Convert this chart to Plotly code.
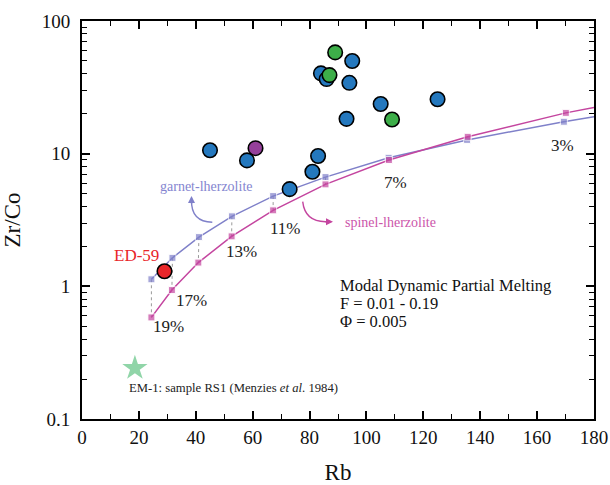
import plotly.graph_objects as go
import math

# ---------------- data ----------------
blue_rb = [45, 58, 73, 81, 83, 84, 86, 93, 94, 95, 105, 125]
blue_zrco = [10.6, 8.9, 5.4, 7.3, 9.6, 40.3, 36.5, 18.3, 34.2, 49.9, 23.7, 25.7]

green_rb = [87, 89, 109]
green_zrco = [39.1, 58.0, 18.1]

purple_rb = [61]
purple_zrco = [11.0]

ed59_rb = [29]
ed59_zrco = [1.30]

em1_rb = [18.6]
em1_zrco = [0.242]

melt_labels = ["19%", "17%", "15%", "13%", "11%", "9%", "7%", "5%", "3%", ""]
garnet_rb = [24.4, 31.8, 41.1, 52.7, 67.2, 85.6, 107.8, 135.4, 169.4, 180]
garnet_zrco = [1.13, 1.64, 2.35, 3.37, 4.79, 6.66, 9.31, 12.7, 17.4, 19.0]
spinel_rb = [24.4, 31.6, 40.9, 52.6, 67.2, 85.6, 107.9, 135.6, 170.1, 180]
spinel_zrco = [0.583, 0.937, 1.51, 2.38, 3.74, 5.87, 8.95, 13.4, 20.3, 22.3]

x_ticks = [0, 20, 40, 60, 80, 100, 120, 140, 160, 180]
y_ticks = [0.1, 1, 10, 100]
y_ticktext = ["0.1", "1", "10", "100"]

FONT = "Liberation Serif"
GARNET = "#7F80C9"
SPINEL = "#C4459F"

L, T, W, H = 82, 21, 512, 398

fig = go.Figure()

# dotted tie lines between the two models (19% .. 9%)
tie_x, tie_y = [], []
for i in range(6):
    tie_x += [garnet_rb[i], spinel_rb[i], None]
    tie_y += [garnet_zrco[i], spinel_zrco[i], None]
fig.add_trace(go.Scatter(x=tie_x, y=tie_y, mode="lines",
                         line=dict(color="#9A9A9A", width=1, dash="dot"),
                         hoverinfo="skip"))

msize = [7] * (len(garnet_rb) - 1) + [0]
fig.add_trace(go.Scatter(x=garnet_rb, y=garnet_zrco, mode="lines+markers",
                         line=dict(color=GARNET, width=1.5),
                         marker=dict(symbol="square", size=msize, color=GARNET),
                         text=melt_labels))
fig.add_trace(go.Scatter(x=spinel_rb, y=spinel_zrco, mode="lines+markers",
                         line=dict(color=SPINEL, width=1.5),
                         marker=dict(symbol="square", size=msize, color=SPINEL),
                         text=melt_labels))

def circles(x, y, color):
    fig.add_trace(go.Scatter(x=x, y=y, mode="markers",
                             marker=dict(symbol="circle", size=14.5, color=color,
                                         line=dict(color="black", width=1.6))))

circles(blue_rb, blue_zrco, "#2478BE")
circles(green_rb, green_zrco, "#3DAE49")
circles(purple_rb, purple_zrco, "#95409A")
circles(ed59_rb, ed59_zrco, "#E8262A")

fig.add_trace(go.Scatter(x=em1_rb, y=em1_zrco, mode="markers",
                         marker=dict(symbol="star", size=19, color="#90D5A8",
                                     line=dict(width=0))))

annotations = []
pct = [("19%", 30.3, 0.497), ("17%", 38.6, 0.788), ("13%", 56.1, 1.82),
       ("11%", 71.4, 2.74), ("7%", 110.3, 6.03), ("3%", 169.0, 11.6)]
for t, x, y in pct:
    annotations.append(dict(x=x, y=math.log10(y), xref="x", yref="y", text=t,
                            showarrow=False, font=dict(family=FONT, size=17, color="#222")))

annotations.append(dict(x=43.8, y=0.751, xref="x", yref="y", text="garnet-lherzolite",
                        showarrow=False, font=dict(family=FONT, size=14, color="#8485D0")))
annotations.append(dict(x=108.3, y=0.479, xref="x", yref="y", text="spinel-lherzolite",
                        showarrow=False, font=dict(family=FONT, size=14, color="#CC55AA")))
annotations.append(dict(x=19.2, y=0.236, xref="x", yref="y", text="ED-59",
                        showarrow=False, font=dict(family=FONT, size=17, color="#E8262A")))
model_lines = [("Modal Dynamic Partial Melting", 0.0098),
               ("F = 0.01 - 0.19", -0.126),
               ("Φ = 0.005", -0.266)]
for t, ly in model_lines:
    annotations.append(dict(x=90, y=ly, xref="x", yref="y", xanchor="left", text=t,
                            showarrow=False, font=dict(family=FONT, size=16.5, color="#111")))
annotations.append(dict(x=15.8, y=math.log10(0.171), xref="x", yref="y", xanchor="left",
                        text="EM-1: sample RS1 (Menzies <i>et al</i>. 1984)",
                        showarrow=False, font=dict(family=FONT, size=12.7, color="#222")))

def px2paper(px, py):
    return (px - L) / W, (T + H - py) / H

gx, gy = px2paper(191.5, 196)
annotations.append(dict(x=gx, y=gy, xref="paper", yref="paper", text="", showarrow=True,
                        ax=0, ay=9, arrowhead=2, arrowsize=1, arrowwidth=1.4,
                        arrowcolor=GARNET, standoff=0))
sx, sy = px2paper(333, 221.7)
annotations.append(dict(x=sx, y=sy, xref="paper", yref="paper", text="", showarrow=True,
                        ax=-9, ay=0, arrowhead=2, arrowsize=1, arrowwidth=1.4,
                        arrowcolor=SPINEL, standoff=0))

shapes = []
a0 = px2paper(212.3, 222.3); c0 = px2paper(191, 222); e0 = px2paper(191.5, 200)
shapes.append(dict(type="path", xref="paper", yref="paper",
                   path=f"M {a0[0]} {a0[1]} Q {c0[0]} {c0[1]} {e0[0]} {e0[1]}",
                   line=dict(color=GARNET, width=1.4)))
a1 = px2paper(302.7, 201.7); c1 = px2paper(305, 222); e1 = px2paper(326, 221.7)
shapes.append(dict(type="path", xref="paper", yref="paper",
                   path=f"M {a1[0]} {a1[1]} Q {c1[0]} {c1[1]} {e1[0]} {e1[1]}",
                   line=dict(color=SPINEL, width=1.4)))

minor_y = [m * 10 ** e for e in (-1, 0, 1) for m in range(2, 10)]

fig.update_layout(
    width=610, height=485,
    margin=dict(l=L, r=610 - L - W, t=T, b=485 - T - H),
    paper_bgcolor="white", plot_bgcolor="white",
    showlegend=False,
    font=dict(family=FONT, size=19, color="#111"),
    annotations=annotations, shapes=shapes,
    xaxis=dict(range=[0, 180], tickvals=x_ticks, ticks="inside", ticklen=8, tickwidth=1.5,
               tickcolor="black", showline=True, linecolor="black", linewidth=1.8,
               mirror="allticks", showgrid=False, zeroline=False, automargin=False,
               tickfont=dict(family=FONT, size=19, color="#111"),
               minor=dict(dtick=10, ticks="inside", ticklen=5, tickwidth=1.3,
                          tickcolor="black", showgrid=False),
               title=dict(text="Rb", font=dict(family=FONT, size=23, color="#111"), standoff=20)),
    yaxis=dict(type="log", range=[-1, 2], tickvals=y_ticks, ticktext=y_ticktext,
               ticks="inside", ticklen=8, tickwidth=1.5, tickcolor="black",
               showline=True, linecolor="black", linewidth=1.8, mirror="allticks",
               showgrid=False, zeroline=False, ticklabelstandoff=6, automargin=False,
               tickfont=dict(family=FONT, size=19, color="#111"),
               minor=dict(tickvals=minor_y, ticks="inside", ticklen=5, tickwidth=1.3,
                          tickcolor="black", showgrid=False),
               title=dict(text="Zr/Co", font=dict(family=FONT, size=23, color="#111"), standoff=18)),
)

fig.write_html("out.html", config={"displayModeBar": False},
               post_script="document.body.style.margin='0';document.body.style.overflow='hidden';")
